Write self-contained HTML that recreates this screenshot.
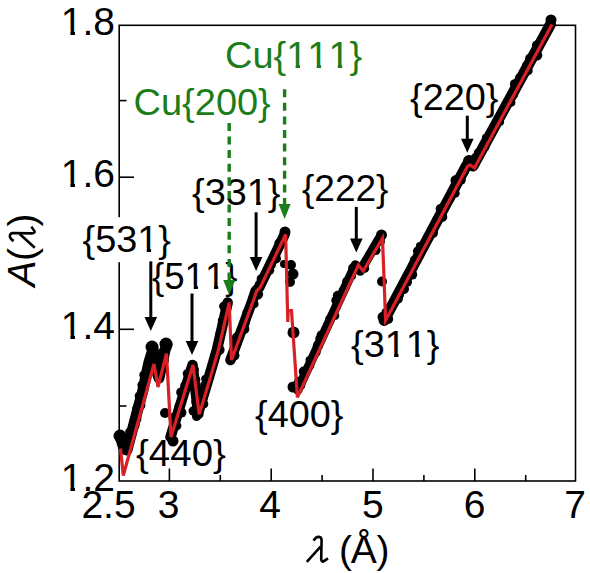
<!DOCTYPE html><html><head><meta charset="utf-8"><style>html,body{margin:0;padding:0;background:#fff;width:590px;height:573px;overflow:hidden}svg{display:block}text{font-kerning:none;font-feature-settings:"kern" 0}</style></head><body><svg width="590" height="573" viewBox="0 0 590 573">
<rect width="590" height="573" fill="#fff"/>
<g stroke="#000" stroke-width="1.6" fill="none">
<rect x="119.2" y="25.3" width="456.3" height="455.7"/>
<line x1="169.4" y1="481" x2="169.4" y2="468.5"/>
<line x1="271.2" y1="481" x2="271.2" y2="468.5"/>
<line x1="373.0" y1="481" x2="373.0" y2="468.5"/>
<line x1="474.8" y1="481" x2="474.8" y2="468.5"/>
<line x1="220.3" y1="481" x2="220.3" y2="475"/>
<line x1="322.1" y1="481" x2="322.1" y2="475"/>
<line x1="423.9" y1="481" x2="423.9" y2="475"/>
<line x1="525.7" y1="481" x2="525.7" y2="475"/>
<line x1="119.2" y1="329.3" x2="134" y2="329.3"/>
<line x1="119.2" y1="177.2" x2="134" y2="177.2"/>
<line x1="119.2" y1="406.0" x2="126.5" y2="406.0"/>
<line x1="119.2" y1="253.3" x2="126.5" y2="253.3"/>
<line x1="119.2" y1="100.6" x2="126.5" y2="100.6"/>
</g>
<g font-family="Liberation Sans" font-size="39" fill="#000">
<text x="115" y="35" text-anchor="end">1.8</text>
<text x="115" y="187" text-anchor="end">1.6</text>
<text x="115" y="338.5" text-anchor="end">1.4</text>
<text x="115" y="491" text-anchor="end">1.2</text>
<text x="108.5" y="517.5" text-anchor="middle">2.5</text>
<text x="168.5" y="517.5" text-anchor="middle">3</text>
<text x="270" y="517.5" text-anchor="middle">4</text>
<text x="372.8" y="517.5" text-anchor="middle">5</text>
<text x="474.6" y="517.5" text-anchor="middle">6</text>
<text x="575" y="517.5" text-anchor="middle">7</text>
</g>
<g fill="none" stroke="#000" stroke-linejoin="round" stroke-linecap="round">
<polyline points="120.0,436.0 124.0,449.0 127.0,450.0 143.0,390.0 149.0,362.0 153.0,349.0 157.0,372.0 159.0,378.0 165.0,350.0 167.0,345.0" stroke-width="11"/>
<polyline points="170.5,437.0 192.5,365.0 198.3,414.0" stroke-width="10.5"/>
<polyline points="197.7,414.4 208.1,380.0 216.9,350.0 227.7,302.5" stroke-width="10.5"/>
<polyline points="230.5,360.0 252.6,300.0 255.6,291.0 259.3,287.3 284.6,234.5" stroke-width="10.5"/>
<polyline points="297.8,390.0 355.4,265.0 360.2,271.0 379.5,238.2" stroke-width="9.5"/>
<polyline points="384.1,320.5 466.0,166.5 468.5,163.0 473.0,166.0 550.5,24.4" stroke-width="11"/>
</g>
<g fill="#000">
<circle cx="123.2" cy="438.7" r="4.7"/>
<circle cx="127.3" cy="449.6" r="4.2"/>
<circle cx="129.1" cy="442.2" r="3.6"/>
<circle cx="129.0" cy="431.7" r="3.7"/>
<circle cx="135.8" cy="425.5" r="3.7"/>
<circle cx="136.2" cy="418.9" r="5.2"/>
<circle cx="137.3" cy="408.9" r="5.3"/>
<circle cx="141.4" cy="405.3" r="4.0"/>
<circle cx="138.8" cy="396.0" r="4.1"/>
<circle cx="141.9" cy="385.0" r="4.5"/>
<circle cx="144.4" cy="379.2" r="4.5"/>
<circle cx="143.2" cy="375.0" r="3.9"/>
<circle cx="147.8" cy="365.1" r="4.1"/>
<circle cx="150.6" cy="355.8" r="4.0"/>
<circle cx="152.6" cy="354.1" r="3.9"/>
<circle cx="154.8" cy="360.2" r="5.1"/>
<circle cx="157.8" cy="368.6" r="5.3"/>
<circle cx="158.6" cy="377.2" r="4.9"/>
<circle cx="160.6" cy="370.1" r="3.6"/>
<circle cx="164.5" cy="360.6" r="4.5"/>
<circle cx="163.3" cy="351.8" r="4.8"/>
<circle cx="172.1" cy="433.7" r="4.3"/>
<circle cx="177.0" cy="425.8" r="4.4"/>
<circle cx="173.3" cy="417.9" r="4.8"/>
<circle cx="181.4" cy="412.6" r="5.0"/>
<circle cx="179.1" cy="406.3" r="4.7"/>
<circle cx="181.3" cy="400.8" r="3.8"/>
<circle cx="181.1" cy="392.3" r="4.9"/>
<circle cx="184.5" cy="385.4" r="4.2"/>
<circle cx="187.0" cy="373.6" r="4.3"/>
<circle cx="193.7" cy="369.8" r="5.0"/>
<circle cx="194.5" cy="369.7" r="4.2"/>
<circle cx="191.0" cy="374.3" r="5.2"/>
<circle cx="196.4" cy="379.6" r="3.9"/>
<circle cx="195.2" cy="387.3" r="4.6"/>
<circle cx="199.2" cy="394.1" r="4.3"/>
<circle cx="196.5" cy="402.1" r="5.2"/>
<circle cx="197.8" cy="410.9" r="4.6"/>
<circle cx="196.0" cy="409.8" r="5.1"/>
<circle cx="203.4" cy="403.9" r="4.9"/>
<circle cx="201.9" cy="398.3" r="3.7"/>
<circle cx="202.2" cy="389.4" r="3.6"/>
<circle cx="204.2" cy="385.1" r="4.1"/>
<circle cx="205.0" cy="378.8" r="3.8"/>
<circle cx="209.6" cy="371.6" r="3.5"/>
<circle cx="214.8" cy="360.0" r="3.8"/>
<circle cx="214.2" cy="355.7" r="4.2"/>
<circle cx="219.3" cy="349.7" r="5.3"/>
<circle cx="219.3" cy="339.1" r="3.7"/>
<circle cx="219.6" cy="333.3" r="4.0"/>
<circle cx="221.3" cy="320.5" r="3.5"/>
<circle cx="225.7" cy="312.4" r="3.8"/>
<circle cx="223.6" cy="306.3" r="4.5"/>
<circle cx="234.7" cy="355.6" r="4.8"/>
<circle cx="232.6" cy="351.6" r="3.8"/>
<circle cx="237.1" cy="342.6" r="4.9"/>
<circle cx="236.8" cy="337.6" r="5.0"/>
<circle cx="244.4" cy="328.9" r="5.0"/>
<circle cx="245.9" cy="322.8" r="3.9"/>
<circle cx="245.4" cy="316.9" r="3.6"/>
<circle cx="246.4" cy="312.7" r="4.0"/>
<circle cx="254.3" cy="304.0" r="4.3"/>
<circle cx="257.9" cy="294.3" r="5.2"/>
<circle cx="258.6" cy="284.6" r="3.9"/>
<circle cx="261.2" cy="278.8" r="4.6"/>
<circle cx="269.9" cy="270.3" r="4.4"/>
<circle cx="272.2" cy="264.9" r="3.7"/>
<circle cx="276.1" cy="258.6" r="4.9"/>
<circle cx="276.9" cy="250.3" r="3.8"/>
<circle cx="279.3" cy="243.1" r="4.9"/>
<circle cx="283.3" cy="235.7" r="4.2"/>
<circle cx="301.4" cy="385.6" r="3.8"/>
<circle cx="299.0" cy="381.8" r="5.1"/>
<circle cx="303.7" cy="371.6" r="5.0"/>
<circle cx="310.2" cy="365.5" r="4.1"/>
<circle cx="309.0" cy="359.8" r="3.5"/>
<circle cx="316.2" cy="352.4" r="4.4"/>
<circle cx="317.9" cy="345.4" r="5.1"/>
<circle cx="319.3" cy="338.8" r="4.0"/>
<circle cx="321.2" cy="335.1" r="4.6"/>
<circle cx="325.2" cy="329.2" r="3.7"/>
<circle cx="329.4" cy="319.0" r="4.3"/>
<circle cx="335.0" cy="315.7" r="4.3"/>
<circle cx="336.4" cy="306.2" r="4.5"/>
<circle cx="335.6" cy="300.4" r="4.3"/>
<circle cx="337.7" cy="295.6" r="4.9"/>
<circle cx="343.5" cy="290.3" r="4.8"/>
<circle cx="346.6" cy="281.3" r="4.4"/>
<circle cx="352.4" cy="276.0" r="3.7"/>
<circle cx="352.2" cy="267.9" r="4.0"/>
<circle cx="358.3" cy="268.7" r="4.5"/>
<circle cx="364.9" cy="268.4" r="4.3"/>
<circle cx="366.0" cy="261.2" r="4.4"/>
<circle cx="369.8" cy="254.1" r="4.5"/>
<circle cx="375.8" cy="250.3" r="4.8"/>
<circle cx="380.9" cy="241.6" r="4.0"/>
<circle cx="388.2" cy="319.0" r="5.0"/>
<circle cx="385.7" cy="312.2" r="4.3"/>
<circle cx="389.6" cy="306.5" r="3.6"/>
<circle cx="397.8" cy="298.7" r="5.1"/>
<circle cx="399.4" cy="294.7" r="4.7"/>
<circle cx="403.8" cy="288.9" r="5.2"/>
<circle cx="407.8" cy="282.3" r="4.2"/>
<circle cx="412.2" cy="274.6" r="5.0"/>
<circle cx="411.4" cy="268.1" r="4.4"/>
<circle cx="414.0" cy="260.1" r="4.1"/>
<circle cx="417.4" cy="251.1" r="4.5"/>
<circle cx="420.0" cy="246.2" r="4.1"/>
<circle cx="426.8" cy="240.3" r="3.6"/>
<circle cx="432.8" cy="232.9" r="5.2"/>
<circle cx="430.8" cy="229.4" r="3.6"/>
<circle cx="436.1" cy="219.5" r="3.7"/>
<circle cx="442.3" cy="216.9" r="5.0"/>
<circle cx="440.8" cy="209.0" r="5.2"/>
<circle cx="448.3" cy="202.7" r="3.7"/>
<circle cx="450.2" cy="198.9" r="4.3"/>
<circle cx="455.1" cy="193.2" r="4.6"/>
<circle cx="455.5" cy="180.3" r="5.0"/>
<circle cx="461.5" cy="180.1" r="4.3"/>
<circle cx="463.8" cy="171.3" r="5.2"/>
<circle cx="471.6" cy="163.5" r="4.4"/>
<circle cx="474.8" cy="157.4" r="3.8"/>
<circle cx="478.1" cy="152.5" r="4.1"/>
<circle cx="485.4" cy="146.9" r="4.0"/>
<circle cx="486.0" cy="137.9" r="4.1"/>
<circle cx="488.5" cy="134.3" r="3.5"/>
<circle cx="495.5" cy="125.6" r="3.8"/>
<circle cx="500.4" cy="121.9" r="3.7"/>
<circle cx="501.8" cy="112.5" r="4.4"/>
<circle cx="505.0" cy="106.1" r="4.4"/>
<circle cx="511.3" cy="102.6" r="4.1"/>
<circle cx="513.5" cy="94.8" r="4.6"/>
<circle cx="513.6" cy="89.6" r="3.6"/>
<circle cx="514.7" cy="84.0" r="4.8"/>
<circle cx="518.9" cy="77.5" r="3.7"/>
<circle cx="528.0" cy="70.7" r="4.7"/>
<circle cx="526.2" cy="65.3" r="4.0"/>
<circle cx="529.5" cy="58.0" r="4.3"/>
<circle cx="537.0" cy="55.3" r="5.3"/>
<circle cx="537.0" cy="45.5" r="5.2"/>
<circle cx="540.4" cy="40.9" r="3.5"/>
<circle cx="544.6" cy="34.8" r="4.4"/>
<circle cx="547.7" cy="29.6" r="3.5"/>
<circle cx="120" cy="436" r="6.5"/>
<circle cx="152" cy="347" r="6.5"/>
<circle cx="166" cy="344" r="6.5"/>
<circle cx="157" cy="362" r="5.5"/>
<circle cx="165" cy="413" r="5"/>
<circle cx="173" cy="441" r="5.5"/>
<circle cx="192.5" cy="365" r="4.5"/>
<circle cx="193" cy="411" r="4.5"/>
<circle cx="196.5" cy="416.5" r="4.5"/>
<circle cx="285" cy="232" r="5.5"/>
<circle cx="284" cy="264" r="4"/>
<circle cx="291" cy="265" r="5"/>
<circle cx="293" cy="274" r="5.5"/>
<circle cx="290" cy="282" r="5"/>
<circle cx="293.5" cy="332.5" r="6"/>
<circle cx="293" cy="387" r="5.5"/>
<circle cx="382" cy="281.5" r="5"/>
<circle cx="382.5" cy="317" r="5"/>
<circle cx="381.5" cy="235" r="5.5"/>
<circle cx="469" cy="161" r="6"/>
<circle cx="551" cy="20" r="5.5"/>
</g>
<polyline points="120.5,448.5 123.3,475.5 154.0,364.0 158.0,387.0 166.5,353.5 171.0,437.0 193.0,365.0 199.2,414.4 209.6,380.0 218.4,350.0 229.2,302.5 231.5,360.0 253.6,300.0 256.6,291.0 260.3,287.3 285.6,234.5 287.8,322.0 288.2,310.5 291.5,310.5 297.4,397.3 358.4,265.0 363.2,271.0 382.5,238.2 385.6,320.5 467.5,166.5 470.0,165.0 474.5,168.0 552.0,24.4" fill="none" stroke="#d82026" stroke-width="3.2" stroke-linejoin="miter"/>
<g font-family="Liberation Sans" font-size="36">
<rect x="81.5" y="217.2" width="90.0" height="45" fill="#fff"/>
<text x="82.5" y="252.2" textLength="88.5" lengthAdjust="spacingAndGlyphs" fill="#000">{531}</text>
<text x="152.0" y="289.0" textLength="85.5" lengthAdjust="spacingAndGlyphs" fill="#000">{511}</text>
<text x="192.0" y="204.5" textLength="88.5" lengthAdjust="spacingAndGlyphs" fill="#000">{331}</text>
<text x="302.0" y="201.0" textLength="86.5" lengthAdjust="spacingAndGlyphs" fill="#000">{222}</text>
<text x="410.0" y="109.5" textLength="88.5" lengthAdjust="spacingAndGlyphs" fill="#000">{220}</text>
<text x="351.0" y="357.0" textLength="88.5" lengthAdjust="spacingAndGlyphs" fill="#000">{311}</text>
<text x="255.0" y="426.5" textLength="88.5" lengthAdjust="spacingAndGlyphs" fill="#000">{400}</text>
<text x="136.0" y="466.0" textLength="89.9" lengthAdjust="spacingAndGlyphs" fill="#000">{440}</text>
<text x="225.0" y="67.5" textLength="137.2" lengthAdjust="spacingAndGlyphs" fill="#1a7d1a">Cu{111}</text>
<text x="133.6" y="114.5" textLength="137.2" lengthAdjust="spacingAndGlyphs" fill="#1a7d1a">Cu{200}</text>
</g>
<rect x="61.2" y="31.0" width="9.2" height="4.8" fill="#fff"/>
<rect x="75.0" y="31.0" width="7.4" height="4.8" fill="#fff"/>
<rect x="61.2" y="183.0" width="9.2" height="4.8" fill="#fff"/>
<rect x="75.0" y="183.0" width="7.4" height="4.8" fill="#fff"/>
<rect x="61.2" y="334.5" width="9.2" height="4.8" fill="#fff"/>
<rect x="75.0" y="334.5" width="7.4" height="4.8" fill="#fff"/>
<rect x="61.2" y="487.0" width="9.2" height="4.8" fill="#fff"/>
<rect x="75.0" y="487.0" width="7.4" height="4.8" fill="#fff"/>
<rect x="137.7" y="248.4" width="9.0" height="4.6" fill="#fff"/>
<rect x="151.1" y="248.4" width="7.2" height="4.6" fill="#fff"/>
<rect x="185.0" y="285.2" width="8.7" height="4.6" fill="#fff"/>
<rect x="197.9" y="285.2" width="6.9" height="4.6" fill="#fff"/>
<rect x="205.3" y="285.2" width="8.7" height="4.6" fill="#fff"/>
<rect x="218.2" y="285.2" width="6.9" height="4.6" fill="#fff"/>
<rect x="247.2" y="200.7" width="9.0" height="4.6" fill="#fff"/>
<rect x="260.6" y="200.7" width="7.2" height="4.6" fill="#fff"/>
<rect x="385.1" y="353.2" width="9.0" height="4.6" fill="#fff"/>
<rect x="398.5" y="353.2" width="7.2" height="4.6" fill="#fff"/>
<rect x="406.2" y="353.2" width="9.0" height="4.6" fill="#fff"/>
<rect x="419.6" y="353.2" width="7.2" height="4.6" fill="#fff"/>
<rect x="286.6" y="63.7" width="9.0" height="4.6" fill="#fff"/>
<rect x="300.0" y="63.7" width="7.2" height="4.6" fill="#fff"/>
<rect x="307.7" y="63.7" width="9.0" height="4.6" fill="#fff"/>
<rect x="321.1" y="63.7" width="7.2" height="4.6" fill="#fff"/>
<rect x="328.8" y="63.7" width="9.0" height="4.6" fill="#fff"/>
<rect x="342.2" y="63.7" width="7.2" height="4.6" fill="#fff"/>
<g>
<line x1="150.8" y1="261.4" x2="150.8" y2="321" stroke="#000" stroke-width="3"/>
<path d="M144.5,317 L157.10000000000002,317 L150.8,331 Z" fill="#000"/>
<line x1="192" y1="293.5" x2="192" y2="345" stroke="#000" stroke-width="3"/>
<path d="M185.7,341 L198.3,341 L192,355 Z" fill="#000"/>
<line x1="256.1" y1="212.3" x2="256.1" y2="261" stroke="#000" stroke-width="3"/>
<path d="M249.8,257 L262.40000000000003,257 L256.1,271 Z" fill="#000"/>
<line x1="356.3" y1="206.9" x2="356.3" y2="242.6" stroke="#000" stroke-width="3"/>
<path d="M350.0,238.6 L362.6,238.6 L356.3,252.6 Z" fill="#000"/>
<line x1="467.3" y1="115.7" x2="467.3" y2="142.8" stroke="#000" stroke-width="3"/>
<path d="M461.0,138.8 L473.6,138.8 L467.3,152.8 Z" fill="#000"/>
</g>
<line x1="229.2" y1="122.9" x2="229.2" y2="283" stroke="#1a7d1a" stroke-width="3.4" stroke-dasharray="8 5.6"/>
<path d="M223.2,280 L235.2,280 L229.2,295 Z" fill="#1a7d1a"/>
<line x1="284.6" y1="89.2" x2="284.6" y2="207" stroke="#1a7d1a" stroke-width="3.4" stroke-dasharray="8 5.6"/>
<path d="M278.6,204 L290.6,204 L284.6,219 Z" fill="#1a7d1a"/>
<path transform="translate(306,562)" d="M7.6,-21.3 Q10,-25.5 13,-25.1 Q15.4,-24.8 15.6,-22 L15.2,-3.2 Q15.5,0 17.2,-0.4 L22,-3.6 M14.6,-15.3 L0.8,-0.2" fill="none" stroke="#000" stroke-width="2.6" stroke-linecap="butt" stroke-linejoin="round"/>
<g font-family="Liberation Sans" font-size="39" fill="#000"><text x="339" y="562.5">(</text><text x="350.8" y="562.5">Å</text><text x="376.4" y="562.5">)</text></g>
<g transform="translate(35,289) rotate(-90)" font-family="Liberation Sans" font-size="39" fill="#000"><text x="2.4" y="0" font-style="italic">A</text><text x="28" y="0">(</text><text x="62.5" y="0">)</text><path transform="translate(40.4,0)" d="M7.6,-21.3 Q10,-25.5 13,-25.1 Q15.4,-24.8 15.6,-22 L15.2,-3.2 Q15.5,0 17.2,-0.4 L22,-3.6 M14.6,-15.3 L0.8,-0.2" fill="none" stroke="#000" stroke-width="2.6" stroke-linejoin="round"/></g>
</svg></body></html>
